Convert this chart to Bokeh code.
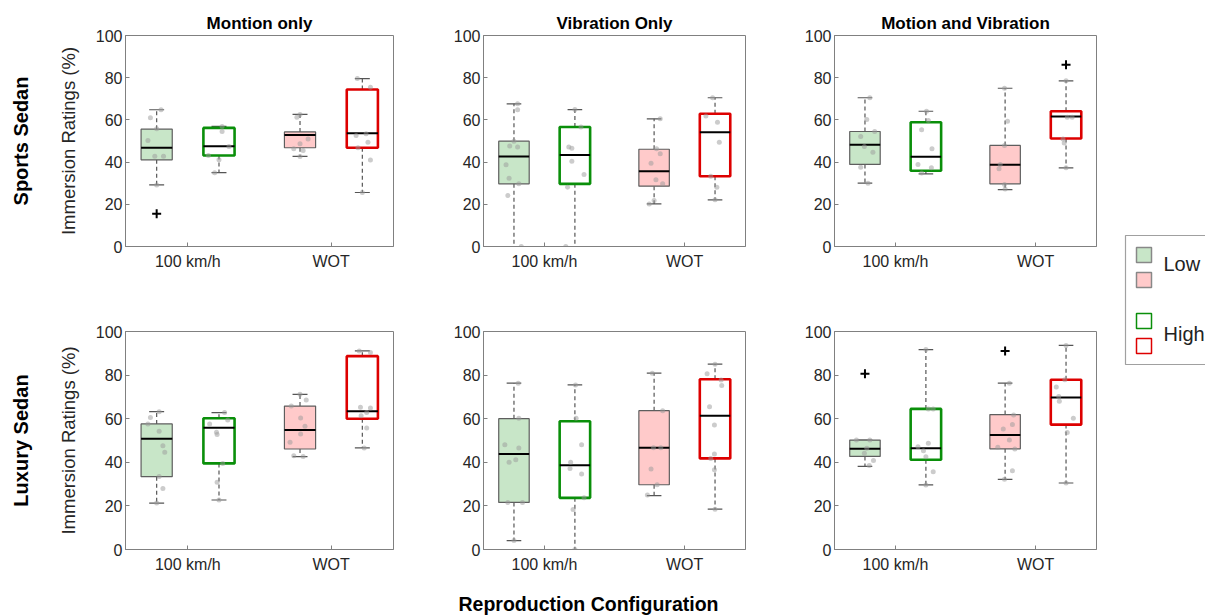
from bokeh.plotting import figure
from bokeh.layouts import row, column
from bokeh.models import Range1d, FixedTicker, LinearAxis, Label
from bokeh.core.properties import value
from bokeh.embed import file_html
from bokeh.resources import INLINE

# ---------------- data ----------------
column_titles = ["Montion only", "Vibration Only", "Motion and Vibration"]
row_titles = ["Sports Sedan", "Luxury Sedan"]
x_tick_labels = ["100 km/h", "WOT"]
y_label = "Immersion Ratings (%)"
x_label = "Reproduction Configuration"
legend_labels = ["Low", "High"]

# box statistics per group: [lower whisker, q1, median, q3, upper whisker]
# group order: Low 100 km/h, High 100 km/h, Low WOT, High WOT
sports_motion_stats = [[29.2, 41.1, 46.8, 55.6, 64.8], [35.0, 43.1, 47.5, 56.2, 56.9],
                       [42.7, 46.8, 52.8, 54.3, 62.6], [25.6, 46.8, 53.7, 74.4, 79.6]]
sports_motion_outliers = [[15.5], [], [], []]
sports_motion_points = [[64.8, 61.0, 55.8, 50.2, 42.8, 42.8, 29.2],
                        [56.9, 54.5, 47.4, 43.1, 41.1, 35.0],
                        [62.6, 61.3, 51.0, 48.7, 46.3, 45.5, 42.7],
                        [79.6, 75.5, 53.4, 52.6, 49.4, 46.8, 41.0, 25.6]]
sports_motion_jitter = [[0.07, -0.10, 0.0, -0.14, -0.03, 0.11, 0.0],
                        [0.05, 0.05, 0.16, -0.17, 0.0, -0.07],
                        [0.0, -0.05, 0.13, 0.0, -0.10, 0.05, 0.0],
                        [-0.08, 0.13, 0.06, -0.10, 0.09, -0.07, 0.13, 0.0]]

sports_vib_stats = [[0.0, 29.7, 42.7, 49.9, 67.6], [0.0, 29.7, 43.4, 56.6, 64.9],
                    [20.2, 28.6, 35.7, 46.1, 60.5], [22.1, 33.3, 54.2, 62.9, 70.5]]
sports_vib_outliers = [[], [], [], []]
sports_vib_points = [[67.6, 64.8, 49.9, 47.6, 47.1, 38.7, 32.4, 29.7, 24.2, 0.0],
                     [64.9, 56.6, 47.1, 46.6, 40.4, 34.1, 28.1, 0.0],
                     [60.5, 46.3, 43.9, 39.5, 31.6, 29.7, 21.8, 20.2],
                     [70.5, 61.8, 58.9, 49.4, 33.3, 28.1, 22.1]]
sports_vib_jitter = [[0.06, 0.06, 0.0, -0.07, 0.06, -0.13, -0.08, 0.08, -0.10, 0.12],
                     [0.0, 0.10, -0.10, -0.05, -0.05, 0.15, -0.12, -0.15],
                     [0.10, 0.04, 0.10, -0.05, 0.03, 0.14, 0.0, -0.08],
                     [-0.04, -0.15, 0.04, 0.07, -0.07, 0.03, 0.0]]

sports_mv_stats = [[30.0, 38.9, 48.2, 54.5, 70.5], [34.4, 35.9, 42.5, 58.9, 64.1],
                   [27.0, 29.7, 38.7, 47.9, 75.0], [37.3, 51.2, 61.6, 64.1, 78.5]]
sports_mv_outliers = [[], [], [], [86.1]]
sports_mv_points = [[70.5, 60.2, 54.5, 52.1, 47.4, 44.7, 37.6, 30.0],
                    [64.1, 59.7, 55.3, 46.3, 38.9, 37.3, 34.8],
                    [75.0, 59.4, 47.9, 38.9, 36.8, 29.4, 27.3],
                    [78.5, 61.3, 61.2, 51.0, 49.0, 37.3]]
sports_mv_jitter = [[0.08, 0.03, 0.16, -0.07, -0.01, 0.13, -0.07, 0.05],
                    [0.01, 0.04, -0.07, 0.10, -0.13, 0.09, -0.07],
                    [-0.01, 0.04, -0.01, -0.08, -0.10, -0.01, 0.0],
                    [0.0, 0.02, 0.10, -0.05, -0.03, 0.0]]

luxury_motion_stats = [[21.3, 33.4, 50.8, 57.6, 63.2], [22.7, 39.5, 55.9, 60.2, 62.8],
                       [42.6, 46.1, 54.8, 65.8, 71.2], [46.6, 60.0, 63.4, 88.7, 91.1]]
luxury_motion_outliers = [[], [], [], []]
luxury_motion_points = [[63.2, 60.6, 57.6, 54.2, 47.6, 44.6, 33.5, 28.0, 21.3],
                        [62.8, 59.4, 57.6, 53.8, 52.7, 39.5, 30.8, 22.7],
                        [71.2, 68.6, 65.8, 60.3, 56.5, 53.0, 49.2, 43.0, 42.7],
                        [91.1, 90.4, 65.2, 64.9, 62.9, 61.4, 55.7, 46.6]]
luxury_motion_jitter = [[0.04, -0.10, -0.14, 0.04, 0.10, 0.13, 0.04, 0.10, 0.0],
                        [0.09, 0.14, -0.15, -0.04, -0.03, 0.06, -0.03, 0.0],
                        [0.0, 0.10, -0.14, 0.01, 0.08, 0.01, -0.16, -0.10, 0.05],
                        [-0.05, 0.13, -0.03, 0.13, 0.07, -0.02, 0.07, 0.03]]

luxury_vib_stats = [[4.1, 21.6, 43.8, 60.0, 76.3], [0.0, 23.7, 38.6, 58.8, 75.5],
                    [24.7, 29.7, 46.7, 63.7, 80.9], [18.5, 41.8, 61.3, 78.1, 85.0]]
luxury_vib_outliers = [[], [], [], []]
luxury_vib_points = [[76.3, 60.2, 48.1, 46.6, 41.2, 40.0, 21.6, 21.6, 4.1],
                     [75.5, 60.2, 48.1, 40.0, 37.2, 34.6, 23.7, 18.4, 0.0],
                     [80.9, 63.7, 46.7, 46.7, 36.9, 29.7, 25.0],
                     [85.0, 80.6, 77.8, 75.2, 65.5, 57.1, 43.8, 41.8, 36.6, 18.5]]
luxury_vib_jitter = [[0.07, 0.08, -0.15, 0.08, 0.03, -0.08, -0.10, 0.14, 0.0],
                     [0.01, 0.02, 0.11, -0.07, -0.08, 0.11, 0.15, -0.03, 0.0],
                     [-0.03, 0.14, -0.01, 0.11, -0.05, 0.05, -0.11],
                     [0.0, -0.13, 0.10, 0.11, -0.09, -0.01, -0.01, -0.07, -0.01, 0.0]]

luxury_mv_stats = [[38.1, 42.7, 46.2, 50.2, 50.2], [29.6, 41.2, 46.4, 64.5, 91.7],
                   [32.2, 46.2, 52.5, 61.9, 76.3], [30.5, 57.3, 69.7, 77.9, 93.6]]
luxury_mv_outliers = [[80.6], [], [91.1], []]
luxury_mv_points = [[50.2, 50.2, 46.4, 44.1, 40.8, 38.5],
                    [91.7, 64.5, 64.5, 48.7, 47.1, 45.3, 42.6, 35.7, 29.6],
                    [76.3, 61.7, 57.3, 55.3, 50.2, 46.9, 46.1, 36.1, 32.2],
                    [93.6, 77.9, 74.5, 70.2, 68.0, 60.2, 53.7, 30.5]]
luxury_mv_jitter = [[-0.14, 0.08, 0.03, -0.01, 0.14, 0.07],
                    [0.0, 0.04, 0.12, 0.04, -0.13, -0.04, 0.0, 0.12, 0.0],
                    [0.07, 0.14, 0.12, -0.03, 0.07, -0.12, 0.16, 0.12, -0.01],
                    [0.0, -0.02, -0.16, -0.12, -0.11, 0.12, 0.02, 0.0]]

# ---------------- styling / layout constants ----------------
FONT = "Liberation Sans"
TXT = "#262626"
AXC = "#808080"
WHISK = "#555555"
GROUP_X = [10, 20, 33, 43]
TICK_X = [15, 38]
SPACING = 10
BOX_W = 5
CAP_W = 2.4
FILLS = ["#c8e6c8", None, "#ffcaca", None]
LINES = ["#5e5e5e", "#0a8f0a", "#5e5e5e", "#dd0000"]
LWS = [1.2, 2.6, 1.2, 2.6]

FRAME_W = [268, 262, 262]
FRAME_H = [211, 218]
B_LEFT = [125, 43, 44]
B_RIGHT = [47, 45, 9]
B_TOP = [35, 33]
B_BOT = [52, 35]


def style_axis(ax):
    ax.major_tick_in = 4
    ax.major_tick_out = 0
    ax.minor_tick_line_color = None
    ax.axis_line_color = AXC
    ax.major_tick_line_color = AXC
    ax.major_label_text_font = FONT
    ax.major_label_text_font_size = "16px"
    ax.major_label_text_color = TXT


def make_panel(stats, outliers, points, jitter, r, c):
    p = figure(frame_width=FRAME_W[c], frame_height=FRAME_H[r],
               min_border_left=B_LEFT[c], min_border_right=B_RIGHT[c],
               min_border_top=B_TOP[r], min_border_bottom=B_BOT[r],
               x_range=Range1d(5, 48), y_range=Range1d(0, 100),
               toolbar_location=None, output_backend="svg",
               title=column_titles[c] if r == 0 else None)
    p.outline_line_color = AXC
    p.outline_line_width = 1
    p.grid.visible = False
    if r == 0:
        p.title.text_font = FONT
        p.title.text_font_size = "17px"
        p.title.text_font_style = "bold"
        p.title.text_color = "black"
        p.title.align = "center"
        p.title.standoff = 5

    xax = p.xaxis[0]
    yax = p.yaxis[0]
    style_axis(xax)
    style_axis(yax)
    xax.ticker = FixedTicker(ticks=TICK_X)
    xax.major_label_overrides = {TICK_X[0]: x_tick_labels[0], TICK_X[1]: x_tick_labels[1]}
    xax.major_label_standoff = 6
    yax.ticker = FixedTicker(ticks=[0, 20, 40, 60, 80, 100])
    yax.major_label_standoff = 3

    if c == 0:
        yax.axis_label = y_label
        yax.axis_label_text_font = FONT
        yax.axis_label_text_font_size = "18.5px"
        yax.axis_label_text_font_style = "normal"
        yax.axis_label_text_color = TXT
        yax.axis_label_standoff = 14
        lab = LinearAxis(ticker=FixedTicker(ticks=[]), axis_label=row_titles[r])
        lab.axis_line_color = None
        lab.major_tick_line_color = None
        lab.minor_tick_line_color = None
        lab.axis_label_text_font = FONT
        lab.axis_label_text_font_size = "20px"
        lab.axis_label_text_font_style = "bold"
        lab.axis_label_text_color = "black"
        lab.axis_label_standoff = 23
        p.add_layout(lab, "left")

    for g in range(4):
        x = GROUP_X[g]
        lo, q1, md, q3, hi = stats[g]
        p.segment(x0=[x, x], y0=[q3, q1], x1=[x, x], y1=[hi, lo],
                  line_color=WHISK, line_width=1.2, line_dash="4 3")
        p.segment(x0=[x - CAP_W / 2] * 2, y0=[hi, lo], x1=[x + CAP_W / 2] * 2, y1=[hi, lo],
                  line_color=WHISK, line_width=1.2)
        p.quad(left=[x - BOX_W / 2], right=[x + BOX_W / 2], bottom=[q1], top=[q3],
               fill_color=FILLS[g], line_color=LINES[g], line_width=LWS[g])
        p.segment(x0=[x - BOX_W / 2], y0=[md], x1=[x + BOX_W / 2], y1=[md],
                  line_color="black", line_width=2)
        xs = [x + j * SPACING for j in jitter[g]]
        p.scatter(x=xs, y=points[g], size=5, fill_color="#999999", fill_alpha=0.5,
                  line_color=None)
        if outliers[g]:
            p.scatter(x=[x] * len(outliers[g]), y=outliers[g], marker="cross", size=9,
                      line_color="black", line_width=2)
    return p


panels = [
    [(sports_motion_stats, sports_motion_outliers, sports_motion_points, sports_motion_jitter),
     (sports_vib_stats, sports_vib_outliers, sports_vib_points, sports_vib_jitter),
     (sports_mv_stats, sports_mv_outliers, sports_mv_points, sports_mv_jitter)],
    [(luxury_motion_stats, luxury_motion_outliers, luxury_motion_points, luxury_motion_jitter),
     (luxury_vib_stats, luxury_vib_outliers, luxury_vib_points, luxury_vib_jitter),
     (luxury_mv_stats, luxury_mv_outliers, luxury_mv_points, luxury_mv_jitter)],
]

rows = []
for r in range(2):
    figs = [make_panel(*panels[r][c], r, c) for c in range(3)]
    rows.append(row(*figs))

# bottom label strip
lab_fig = figure(width=1105, height=31, min_border=0, toolbar_location=None,
                 output_backend="svg", x_range=Range1d(0, 1), y_range=Range1d(0, 1),
                 x_axis_location=None, y_axis_location=None)
lab_fig.grid.visible = False
lab_fig.outline_line_color = None
lab_fig.add_layout(Label(x=588, y=12, x_units="screen", y_units="screen", text=x_label,
                         text_align="center", text_baseline="middle", text_font=FONT,
                         text_font_size="19.5px", text_font_style="bold", text_color="black"))

# legend strip (own pixel-like coordinate frame)
LW, LH = 100, 615
leg = figure(width=LW, height=LH, min_border=0, toolbar_location=None, output_backend="svg",
             x_range=Range1d(0, LW), y_range=Range1d(0, LH),
             x_axis_location=None, y_axis_location=None)
leg.grid.visible = False
leg.outline_line_color = None
box_l, box_t, box_b = 20, 380, 251
leg.multi_line(xs=[[LW + 2, box_l, box_l, LW + 2]], ys=[[box_t, box_t, box_b, box_b]],
               line_color="#a0a0a0", line_width=1.2)
sw_l, sw_r = 31, 46
leg.quad(left=[sw_l, sw_l], right=[sw_r, sw_r], bottom=[353, 328], top=[368, 343],
         fill_color=[FILLS[0], FILLS[2]], line_color="#888888", line_width=1.5)
leg.quad(left=[sw_l, sw_l], right=[sw_r, sw_r], bottom=[287, 262], top=[302, 277],
         fill_color=None, line_color=[LINES[1], LINES[3]], line_width=1.5)
leg.text(x=[58, 58], y=[352, 282], text=legend_labels, text_font=value(FONT),
         text_font_size="20px", text_baseline="middle", text_align="left", text_color="#222222")

layout = row(column(rows[0], rows[1], lab_fig), leg)

open("out.html", "w").write(file_html(layout, INLINE))
